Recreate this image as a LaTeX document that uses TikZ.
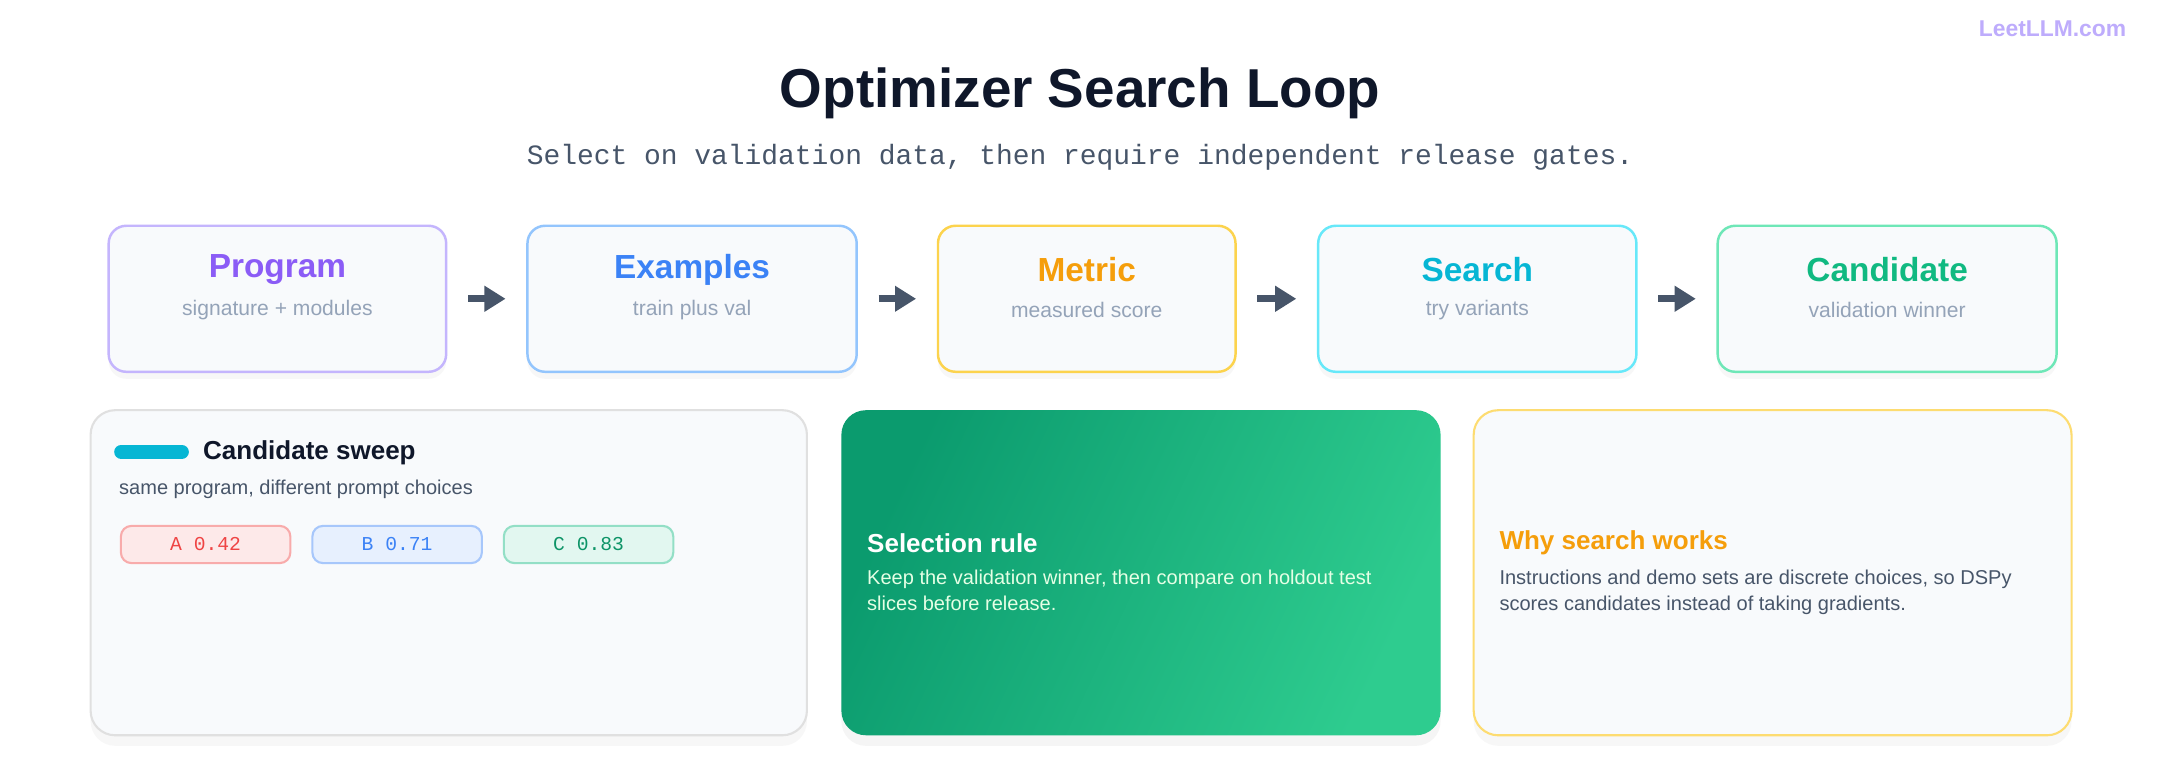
\documentclass[tikz,border=0pt]{standalone}
\usepackage{fontspec}
\setmainfont{Liberation Sans}
\setmonofont{Liberation Mono}
\usetikzlibrary{arrows.meta,calc,shadows}
\def\px{0.01378cm}
\definecolor{ink}{HTML}{0F172A}
\definecolor{slate}{HTML}{475569}
\definecolor{mute}{HTML}{94A3B8}
\definecolor{panel}{HTML}{F8FAFC}
\definecolor{cpurple}{HTML}{8B5CF6}\definecolor{bpurple}{HTML}{C4B5FD}
\definecolor{cblue}{HTML}{3B82F6}\definecolor{bblue}{HTML}{93C5FD}
\definecolor{corange}{HTML}{F59E0B}\definecolor{borange}{HTML}{FCD34D}
\definecolor{ccyan}{HTML}{06B6D4}\definecolor{bcyan}{HTML}{67E8F9}
\definecolor{cgreen}{HTML}{10B981}\definecolor{bgreen}{HTML}{6EE7B7}
\definecolor{cred}{HTML}{EF4444}
\definecolor{gdark}{HTML}{0B9B6E}\definecolor{glight}{HTML}{2ECC8F}
\begin{document}
\begin{tikzpicture}[x=\px, y=-\px, >={Triangle[length=6pt,width=7pt]},
  stage/.style={draw, fill=panel, rounded corners=5pt, line width=0.7pt, anchor=north west,
    minimum height=106*\px, drop shadow={opacity=0.06, shadow xshift=0pt, shadow yshift=-2pt}},
  head/.style={font=\bfseries\fontsize{9.5}{11}\selectfont},
  sub/.style={text=mute, font=\fontsize{6}{7}\selectfont},
  flow/.style={->, slate, line width=2pt, shorten >=15*\px, shorten <=15*\px},
  card/.style={rounded corners=7pt, anchor=north west, minimum height=236*\px, line width=0.6pt},
  body/.style={anchor=west, inner sep=0pt, text=slate, font=\fontsize{5.7}{7}\selectfont},
  chip/.style={rounded corners=3pt, line width=0.6pt, minimum width=123*\px, minimum height=27*\px,
    anchor=north west, font=\ttfamily\fontsize{5.6}{7}\selectfont}]
  \useasboundingbox[fill=white] (0,0) rectangle (1568,553);
  \node[text=bpurple!90!cpurple, font=\bfseries\fontsize{6.5}{8}\selectfont] (brand) at (1490,21) {LeetLLM.com};
  \node[text=ink, font=\bfseries\fontsize{15.6}{18}\selectfont] (title) at (784,68) {Optimizer Search Loop};
  \node[text=slate, font=\ttfamily\fontsize{7.95}{10}\selectfont] (subtitle) at (784,114) {Select on validation data, then require independent release gates.};

  % pipeline
  \node[stage, draw=bpurple, minimum width=245*\px] (program) at (78,163) {};
  \node[stage, draw=bblue, minimum width=239*\px] (examples) at (382,163) {};
  \node[stage, draw=borange, minimum width=216*\px] (metric) at (680,163) {};
  \node[stage, draw=bcyan, minimum width=231*\px] (search) at (956,163) {};
  \node[stage, draw=bgreen, minimum width=246*\px] (candidate) at (1246,163) {};
  \foreach \n/\c/\t/\s in {program/cpurple/Program/signature + modules, examples/cblue/Examples/train plus val,
    metric/corange/Metric/measured score, search/ccyan/Search/try variants, candidate/cgreen/Candidate/validation winner} {
    \node[head, text=\c] at ([yshift=21*\px]\n.center) {\t};
    \node[sub] at ([yshift=-8*\px]\n.center) {\s};
  }
  \draw[flow] (program) -- (examples);
  \draw[flow] (examples) -- (metric);
  \draw[flow] (metric) -- (search);
  \draw[flow] (search) -- (candidate);

  % panels
  \node[card, draw=black!12, fill=panel, minimum width=520*\px,
    drop shadow={opacity=0.06, shadow xshift=0pt, shadow yshift=-3pt}] (sweep) at (65,297) {};
  \draw[ccyan, line width=4pt, line cap=round] (88,328) -- (132,328);
  \node[body, text=ink, font=\bfseries\fontsize{7.4}{9}\selectfont] (sweeptitle) at (147,329) {Candidate sweep};
  \node[body] (sweeptext) at (86,355) {same program, different prompt choices};
  \node[chip, draw=cred!45, fill=cred!12, text=cred] (chipa) at (87,381) {A 0.42};
  \node[chip, draw=cblue!45, fill=cblue!12, text=cblue] (chipb) at (226,381) {B 0.71};
  \node[chip, draw=cgreen!45, fill=cgreen!12, text=cgreen!80!black] (chipc) at (365,381) {C 0.83};

  \node[card, minimum width=435*\px, left color=gdark, right color=glight, shading angle=65,
    drop shadow={opacity=0.08, shadow xshift=0pt, shadow yshift=-3pt}] (rule) at (610,297) {};
  \node[body, text=white, font=\bfseries\fontsize{7.4}{9}\selectfont] (ruletitle) at (629,394) {Selection rule};
  \node[body, text=white!90!green, anchor=north west, align=left, font=\fontsize{5.7}{7.6}\selectfont] (ruletext) at (629,413)
    {Keep the validation winner, then compare on holdout test\\slices before release.};

  \node[card, draw=borange!80, fill=panel, minimum width=434*\px,
    drop shadow={opacity=0.06, shadow xshift=0pt, shadow yshift=-3pt}] (why) at (1069,297) {};
  \node[body, text=corange, font=\bfseries\fontsize{7.4}{9}\selectfont] (whytitle) at (1088,394) {Why search works};
  \node[body, anchor=north west, align=left, font=\fontsize{5.7}{7.6}\selectfont] (whytext) at (1088,413)
    {Instructions and demo sets are discrete choices, so DSPy\\scores candidates instead of taking gradients.};
\end{tikzpicture}
\end{document}
